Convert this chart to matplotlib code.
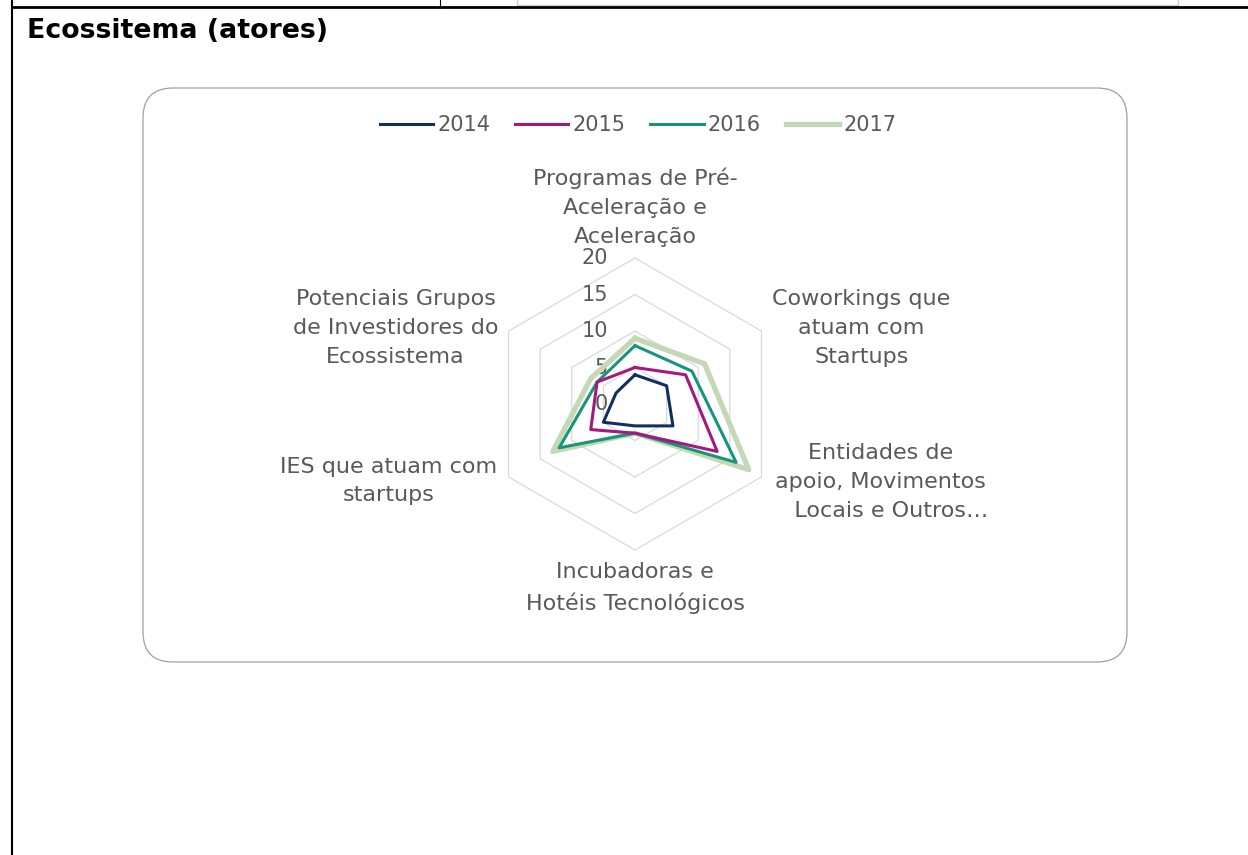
import numpy as np
import matplotlib
matplotlib.use("Agg")
from matplotlib import pyplot as plt
from matplotlib.patches import FancyBboxPatch, Rectangle

"data"
categories = ['Programas de Pré-\nAceleração e\nAceleração',
              'Coworkings que\natuam com\nStartups',
              'Entidades de\napoio, Movimentos\n   Locais e Outros…',
              'Incubadoras e\nHotéis Tecnológicos',
              'IES que atuam com\nstartups',
              'Potenciais Grupos\nde Investidores do\nEcossistema']
years = ['2014', '2015', '2016', '2017']
v2014 = [4, 5, 6, 3, 5, 3]
v2015 = [5, 8, 13, 4, 7, 6]
v2016 = [8, 9, 16, 4, 12, 6]
v2017 = [9, 11, 18, 4, 13, 7]
ticks = [0, 5, 10, 15, 20]

"style"
colors = ['#112F5F', '#A3197F', '#16957A', '#C5D8B5']
widths = [2.2, 2.2, 2.2, 3.8]
grey = '#595959'
plt.rcParams['font.family'] = ['DejaVu Sans']

W, H = 1248, 855
fig = plt.figure(figsize=(W / 100, H / 100), dpi=100)

"page frame (pixel coords)"
bg = fig.add_axes([0, 0, 1, 1])
bg.set_xlim(0, W)
bg.set_ylim(H, 0)
bg.axis('off')
bg.plot([12, W], [7, 7], color='black', lw=2.0, solid_capstyle='butt')
bg.plot([12, 12], [0, H], color='black', lw=1.5, solid_capstyle='butt')
bg.plot([440, 440], [0, 7], color='black', lw=0.8)
bg.add_patch(Rectangle((517, -10), 661, 15, fill=False, ec='#CFCFCF', lw=1))
bg.add_patch(FancyBboxPatch((143, 88), 984, 574,
                            boxstyle='round,pad=0,rounding_size=30',
                            fc='white', ec='#A0A0A0', lw=0.9))
bg.text(27, 31, 'Ecossitema (atores)', fontsize=19.3, fontweight='bold',
        ha='left', va='center', color='black')

"radar"
cx, cy, R = 635, 404, 146
ax = fig.add_axes([(cx - R) / W, (H - cy - R) / H, 2 * R / W, 2 * R / H],
                  projection='polar')
ax.set_theta_offset(np.pi / 2)
ax.set_theta_direction(-1)
ax.set_ylim(0, 20)
ax.grid(False)
ax.spines['polar'].set_visible(False)
ax.set_xticks([])
ax.set_yticks([])
ax.patch.set_alpha(0)

angles = np.linspace(0, 2 * np.pi, len(categories), endpoint=False)
closed = np.append(angles, angles[0])

for t in ticks[1:]:
    ax.plot(closed, [t] * len(closed), color='#D9D9D9', lw=0.9,
            clip_on=False, zorder=1)

series = [v2014, v2015, v2016, v2017]
for i, vals in enumerate(series):
    ax.plot(closed, vals + [vals[0]], color=colors[i], lw=widths[i],
            label=years[i], clip_on=False, zorder=10 - i)

for t in ticks:
    ax.annotate(str(t), xy=(0, t), xytext=(-27, 0), textcoords='offset pixels',
                ha='right', va='center', fontsize=15, color=grey)

offsets = [(0, 51), (100, 3), (119, -5), (0, -38), (-120, -4), (-113, 3)]
for a, lab, off in zip(angles, categories, offsets):
    ax.annotate(lab, xy=(a, 20), xytext=off, textcoords='offset pixels',
                ha='center', va='center', multialignment='center',
                fontsize=16, color=grey, linespacing=1.55)

handles, labels = ax.get_legend_handles_labels()
fig.legend(handles, labels, loc='center', bbox_to_anchor=(638 / W, 1 - 125 / H),
           ncol=4, frameon=False, fontsize=15, labelcolor=grey,
           handlelength=2.55, handletextpad=0.2, columnspacing=1.2)

fig.savefig('out.png', dpi=100)
